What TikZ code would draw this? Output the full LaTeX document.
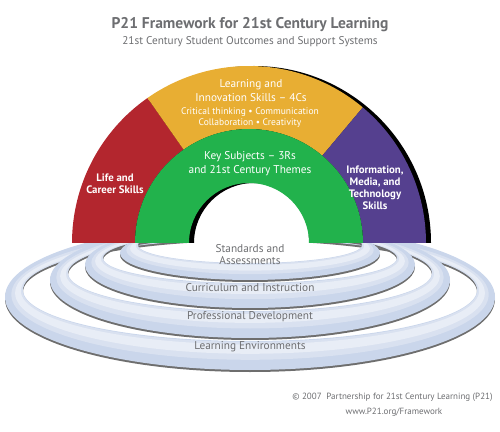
\documentclass[tikz,border=0pt]{standalone}
\usepackage{fontspec}
\setmainfont{PT Sans}
\definecolor{p21red}{HTML}{B3262E}
\definecolor{p21yellow}{HTML}{E8AE33}
\definecolor{p21purple}{HTML}{55408F}
\definecolor{p21green}{HTML}{22B24C}
\definecolor{ringblue}{HTML}{CAD6EB}
\definecolor{ringmid}{HTML}{D9E1F0}
\definecolor{ringlight}{HTML}{E8EDF6}
\definecolor{ringshadow}{HTML}{6E6E6E}
\definecolor{labelgrey}{HTML}{6D6E71}
\begin{document}
\begin{tikzpicture}[x=1pt,y=1pt,
		titletext/.style={text=labelgrey, font=\fontsize{15.5}{18}\selectfont\bfseries},
		subtext/.style={text=labelgrey, font=\fontsize{11.2}{13}\selectfont},
		archtext/.style={text=white, align=center, font=\fontsize{11.3}{14}\selectfont},
		archsmall/.style={text=white, align=center, font=\fontsize{9.5}{11}\selectfont},
		sidetext/.style={text=white, align=center, font=\fontsize{10.8}{12}\selectfont\bfseries},
		ringtext/.style={text=labelgrey, align=center, font=\fontsize{11.3}{12}\selectfont},
		foottext/.style={text=labelgrey, font=\fontsize{9}{10}\selectfont}]
		\useasboundingbox (0,0) rectangle (500,431);
		% Titolo
		\node [titletext] (title) at (250,406) {P21 Framework for 21st Century Learning};
		\node [subtext] (subtitle) at (250,389) {21st Century Student Outcomes and Support Systems};
		% Anelli: Learning Environments
		\fill [ringshadow, even odd rule, yshift=-2] (250,134) ellipse [x radius=245, y radius=73] (250,141) ellipse [x radius=227, y radius=51];
		\fill [ringblue, even odd rule] (250,134) ellipse [x radius=245, y radius=73] (250,141) ellipse [x radius=227, y radius=51];
		\fill [ringmid, even odd rule] (250,136.5) ellipse [x radius=238.7, y radius=65.3] (250,140.8) ellipse [x radius=227.5, y radius=51.7];
		\fill [ringlight, even odd rule] (250,137.9) ellipse [x radius=234.9, y radius=60.7] (250,140.2) ellipse [x radius=229.2, y radius=53.6];
		% Professional Development
		\fill [ringshadow, even odd rule, yshift=-2] (250,151) ellipse [x radius=200, y radius=58] (250,158) ellipse [x radius=182, y radius=38];
		\fill [ringblue, even odd rule] (250,151) ellipse [x radius=200, y radius=58] (250,158) ellipse [x radius=182, y radius=38];
		\fill [ringmid, even odd rule] (250,153.5) ellipse [x radius=193.7, y radius=51] (250,157.8) ellipse [x radius=182.5, y radius=38.6];
		\fill [ringlight, even odd rule] (250,154.9) ellipse [x radius=189.9, y radius=46.8] (250,157.2) ellipse [x radius=184.2, y radius=40.4];
		% Curriculum and Instruction
		\fill [ringshadow, even odd rule, yshift=-2] (250,166) ellipse [x radius=165, y radius=43] (250,173) ellipse [x radius=147, y radius=25];
		\fill [ringblue, even odd rule] (250,166) ellipse [x radius=165, y radius=43] (250,173) ellipse [x radius=147, y radius=25];
		\fill [ringmid, even odd rule] (250,168.5) ellipse [x radius=158.7, y radius=36.7] (250,172.8) ellipse [x radius=147.5, y radius=25.6];
		\fill [ringlight, even odd rule] (250,169.9) ellipse [x radius=154.9, y radius=32.9] (250,172.2) ellipse [x radius=149.2, y radius=27.2];
		% Standards and Assessments
		\fill [ringshadow, even odd rule, yshift=-2] (250,178) ellipse [x radius=130, y radius=27] (250,186) ellipse [x radius=112, y radius=18];
		\fill [ringblue, even odd rule] (250,178) ellipse [x radius=130, y radius=27] (250,186) ellipse [x radius=112, y radius=18];
		\fill [ringmid, even odd rule] (250,180.8) ellipse [x radius=123.7, y radius=23.9] (250,185.8) ellipse [x radius=112.5, y radius=18.3];
		\fill [ringlight, even odd rule] (250,182.4) ellipse [x radius=119.9, y radius=22] (250,185.1) ellipse [x radius=114.2, y radius=19.1];
		% Arco
		\coordinate (c) at (249,188);
		\coordinate (cs) at (254,188);
		\fill [white] ([shift={(180:60)}]c) arc [start angle=180, end angle=0, radius=60] -- cycle;
		\fill [black] ([shift={(180:177)}]cs) arc [start angle=180, end angle=0, radius=177] -- ([shift={(0:60)}]cs) arc [start angle=0, end angle=180, radius=60] -- cycle;
		\fill [p21red] ([shift={(180:177)}]c) arc [start angle=180, end angle=125, radius=177] -- ([shift={(125:114)}]c) arc [start angle=125, end angle=180, radius=114] -- cycle;
		\fill [p21yellow] ([shift={(125:177)}]c) arc [start angle=125, end angle=50, radius=177] -- ([shift={(50:114)}]c) arc [start angle=50, end angle=125, radius=114] -- cycle;
		\fill [p21purple] ([shift={(50:177)}]c) arc [start angle=50, end angle=0, radius=177] -- ([shift={(0:114)}]c) arc [start angle=0, end angle=50, radius=114] -- cycle;
		\fill [p21green] ([shift={(180:114)}]c) arc [start angle=180, end angle=0, radius=114] -- ([shift={(0:60)}]c) arc [start angle=0, end angle=180, radius=60] -- cycle;
		% Testi dell'arco
		\node [archtext] (learn) at (251,340) {Learning and\\Innovation Skills – 4Cs};
		\node [archsmall] (fourc) at (250,313.5) {Critical thinking • Communication\\Collaboration • Creativity};
		\node [archtext] (key) at (250,267) {Key Subjects – 3Rs\\and 21st Century Themes};
		\node [sidetext] (life) at (115,247) {Life and\\Career Skills};
		\node [sidetext] (info) at (375,243.5) {Information,\\Media, and\\Technology\\Skills};
		% Testi degli anelli
		\node [ringtext] (standards) at (250,176) {Standards and\\Assessments};
		\node [ringtext] (curriculum) at (250,143) {Curriculum and Instruction};
		\node [ringtext] (professional) at (250,114) {Professional Development};
		\node [ringtext] (environments) at (250,84) {Learning Environments};
		% Piede
		\node [foottext] (copyright) at (392.5,34) {© 2007\ \ Partnership for 21st Century Learning (P21)};
		\node [foottext] (website) at (394,19) {www.P21.org/Framework};
	\end{tikzpicture}
\end{document}
